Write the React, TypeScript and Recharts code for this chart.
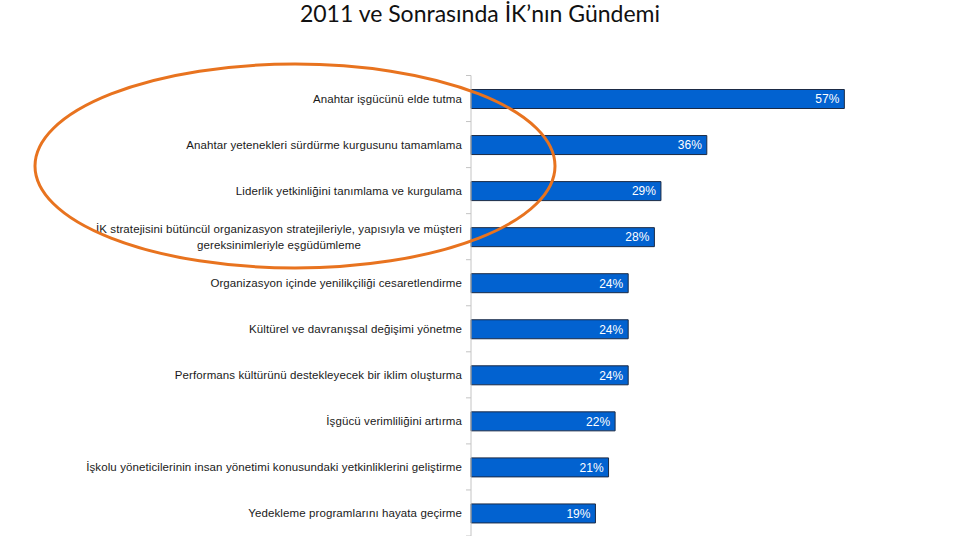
import React from "react"
import { BarChart, Bar, XAxis, YAxis, LabelList } from "recharts"

const categories = [
  "Anahtar işgücünü elde tutma",
  "Anahtar yetenekleri sürdürme kurgusunu tamamlama",
  "Liderlik yetkinliğini tanımlama ve kurgulama",
  "İK stratejisini bütüncül organizasyon stratejileriyle, yapısıyla ve müşteri\ngereksinimleriyle eşgüdümleme",
  "Organizasyon içinde yenilikçiliği cesaretlendirme",
  "Kültürel ve davranışsal değişimi yönetme",
  "Performans kültürünü destekleyecek bir iklim oluşturma",
  "İşgücü verimliliğini artırma",
  "İşkolu yöneticilerinin insan yönetimi konusundaki yetkinliklerini geliştirme",
  "Yedekleme programlarını hayata geçirme",
]
const values = [57, 36, 29, 28, 24, 24, 24, 22, 21, 19]

const data = categories.map((name, i) => ({ name, value: values[i] }))

const W = 960
const H = 536
const TOP = 75.5
const BAND = (H - TOP) / categories.length
const LABEL_FONT = '11.5px "Liberation Sans", Arial, sans-serif'
const LABEL_SPACING = 0.1

let ctx: CanvasRenderingContext2D | null = null
function textWidth(s: string) {
  if (!ctx) ctx = document.createElement("canvas").getContext("2d")
  if (!ctx) return s.length * 6
  ctx.font = LABEL_FONT
  return ctx.measureText(s).width + s.length * LABEL_SPACING
}

function CategoryTick(props: any) {
  const { x, y, payload, index } = props
  const lines: string[] = String(payload.value).split("\n")
  const widest = Math.max(...lines.map(textWidth))
  const tx = x - 9
  const mid = tx - widest / 2
  return (
    <g>
      <line x1={x - 5} x2={x} y1={y - BAND / 2} y2={y - BAND / 2} stroke="#c4c4c4" />
      {index === categories.length - 1 && (
        <line x1={x - 5} x2={x} y1={y + BAND / 2} y2={y + BAND / 2} stroke="#c4c4c4" />
      )}
      {lines.map((l, i) => (
        <text
          key={i}
          x={lines.length > 1 ? mid : tx}
          y={y + (i - (lines.length - 1) / 2) * 16}
          dy="0.35em"
          textAnchor={lines.length > 1 ? "middle" : "end"}
          fill="#1a1a1a"
          style={{ font: LABEL_FONT, letterSpacing: `${LABEL_SPACING}px` }}
        >
          {l}
        </text>
      ))}
    </g>
  )
}

function ValueLabel(props: any) {
  const { x, y, width, height, value } = props
  return (
    <text
      x={x + width - 5}
      y={y + height / 2}
      dy="0.36em"
      textAnchor="end"
      fill="#ffffff"
      style={{ font: '12px "Liberation Sans", Arial, sans-serif' }}
    >
      {value}%
    </text>
  )
}

export default function App() {
  return (
    <div style={{ position: "fixed", left: 0, top: 0, width: W, height: H, background: "#fff", overflow: "hidden" }}>
      <div
        style={{
          position: "absolute",
          left: 0,
          top: -2,
          width: W,
          textAlign: "center",
          fontFamily: "Lato, 'Open Sans', sans-serif",
          fontSize: 23,
          lineHeight: "30px",
          color: "#111",
        }}
      >
        2011 ve Sonrasında İK’nın Gündemi
      </div>
      <BarChart
        width={W}
        height={H}
        data={data}
        layout="vertical"
        margin={{ top: TOP, right: 96, bottom: 0, left: 0 }}
        barSize={19}
      >
        <XAxis type="number" domain={[0, 60]} hide />
        <YAxis
          type="category"
          dataKey="name"
          width={471}
          axisLine={{ stroke: "#c4c4c4" }}
          tickLine={false}
          tickSize={0}
          tickMargin={0}
          interval={0}
          tick={<CategoryTick />}
        />
        <Bar dataKey="value" fill="#0262d0" stroke="#1b2a45" strokeWidth={1} isAnimationActive={false}>
          <LabelList dataKey="value" content={<ValueLabel />} />
        </Bar>
      </BarChart>
      <svg width={W} height={H} style={{ position: "absolute", left: 0, top: 0, pointerEvents: "none" }}>
        <ellipse cx={295} cy={166} rx={260} ry={102} fill="none" stroke="#e8731f" strokeWidth={3} />
      </svg>
    </div>
  )
}
